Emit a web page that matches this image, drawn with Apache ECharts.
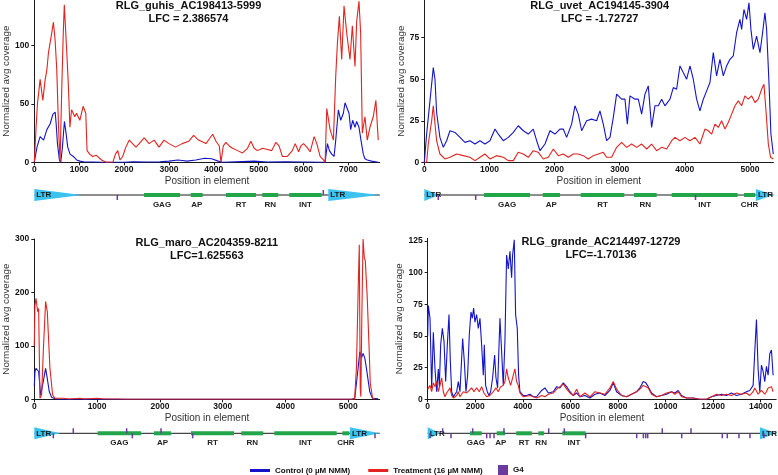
<!DOCTYPE html>
<html><head><meta charset="utf-8">
<script src="https://cdn.jsdelivr.net/npm/echarts@6/dist/echarts.min.js"></script>
<style>html,body{margin:0;padding:0;background:#fff}#c{width:778px;height:475px}</style>
</head><body><div id="c"></div>
<script>
// ---------------- DATA ----------------
const CTRL = 'Control (0 µM NMM)', TREAT = 'Treatment (16 µM NMM)';

// Panel 1: RLG_guhis
const guhisTitle = 'RLG_guhis_AC198413-5999', guhisLFC = 'LFC = 2.386574';
const guhisLength = 7700, guhisYMax = 139;
const guhisXTicks = [0,1000,2000,3000,4000,5000,6000,7000];
const guhisYTicks = [0,50,100];
const guhisControl = [[0,0],[60,13],[130,22],[207,19],[280,28],[354,33],[413,41],[465,43],[487,33],[516,16],[560,2],[590,0],[627,13],[671,35],[708,25],[745,13],[797,7],[870,5],[944,2],[1018,1],[1100,0.5],[1500,0],[2000,0],[2200,0.5],[2500,0.3],[2800,0.5],[3000,1],[3200,2],[3300,1.5],[3400,1],[3600,2],[3800,3.5],[3950,3],[4100,1],[4200,0],[4500,0.5],[4900,1],[5200,0.3],[5600,0.5],[6000,0.3],[6400,0],[6481,0],[6533,16],[6577,10],[6629,7],[6681,5],[6718,19],[6777,45],[6829,36],[6888,42],[6925,51],[6962,52],[7014,42],[7051,28],[7095,36],[7147,30],[7184,35],[7236,30],[7280,19],[7332,7],[7369,3],[7421,2],[7517,1],[7665,0]];
const guhisTreatment = [[0,0],[40,30],[70,50],[130,71],[190,53],[243,71],[280,79],[316,94],[390,111],[426,120],[463,105],[500,80],[540,30],[574,0],[610,60],[645,110],[669,135],[720,97],[757,68],[794,30],[830,45],[904,39],[941,42],[1015,36],[1088,48],[1147,42],[1176,10],[1235,7],[1300,5],[1382,6],[1500,2],[1600,0],[1750,0],[1808,7],[1860,10],[1910,2],[1970,5],[2040,13],[2118,19],[2190,16],[2265,13],[2338,16],[2448,21],[2560,16],[2670,19],[2780,13],[2890,19],[3000,16],[3147,13],[3294,16],[3441,18],[3550,23],[3660,19],[3827,16],[3900,20],[3975,24],[4049,18],[4123,14],[4160,0],[4212,14],[4271,17],[4345,14],[4419,12],[4530,10],[4641,8],[4752,12],[4826,18],[4900,12],[4974,10],[5085,12],[5196,11],[5292,10],[5381,17],[5455,14],[5529,5],[5640,5],[5750,10],[5815,16],[5890,9],[5940,14],[6000,16],[6074,13],[6148,9],[6237,22],[6296,16],[6370,5],[6444,2],[6481,0],[6518,46],[6592,28],[6666,19],[6718,74],[6755,102],[6799,125],[6851,88],[6903,134],[6962,111],[7036,88],[7088,117],[7147,82],[7184,120],[7236,138],[7273,111],[7310,25],[7369,39],[7421,19],[7480,30],[7554,39],[7613,53],[7665,19]];
const guhisLTR = [[0,1056],[6552,7700]];
const guhisGenes = [['GAG',2445,3247],['AP',3486,3753],['RT',4272,4941],['RN',5081,5438],['INT',5683,6405]];
const guhisG4 = [[1850,-1],[6441,1]];

// Panel 2: RLG_uvet
const uvetTitle = 'RLG_uvet_AC194145-3904', uvetLFC = 'LFC = -1.72727';
const uvetLength = 5360, uvetYMax = 97.7;
const uvetXTicks = [0,1000,2000,3000,4000,5000];
const uvetYTicks = [0,25,50,75];
const uvetControl = [[0,0],[36,17],[87,37],[138,57],[164,50],[189,30],[240,15],[292,9],[343,13],[394,19],[471,18],[548,15],[624,12],[701,13],[778,11],[855,13],[931,11],[1008,13],[1085,20],[1136,17],[1213,13],[1290,15],[1366,18],[1443,22],[1520,19],[1597,17],[1673,20],[1725,13],[1776,7],[1853,11],[1929,19],[2006,17],[2083,20],[2134,20],[2185,15],[2262,23],[2313,34],[2364,29],[2416,19],[2492,25],[2569,26],[2646,25],[2697,31],[2748,23],[2799,13],[2851,15],[2902,27],[2953,41],[3030,38],[3081,38],[3117,23],[3158,40],[3234,38],[3286,38],[3337,29],[3388,41],[3439,46],[3490,21],[3541,34],[3593,34],[3644,38],[3695,34],[3772,38],[3823,45],[3874,44],[3925,58],[3976,54],[4028,50],[4079,58],[4130,50],[4181,38],[4232,31],[4284,38],[4335,43],[4386,48],[4437,66],[4488,52],[4539,62],[4591,52],[4642,58],[4693,62],[4744,64],[4795,78],[4846,86],[4872,80],[4908,92],[4949,86],[4985,96],[5015,80],[5051,68],[5102,76],[5154,66],[5194,78],[5230,90],[5256,80],[5292,48],[5322,17],[5358,5]];
const uvetTreatment = [[0,0],[36,0],[61,11],[113,25],[138,34],[189,13],[240,5],[317,2],[394,3],[496,5],[599,4],[701,3],[778,1],[855,3],[931,5],[1008,2],[1110,4],[1213,3],[1290,1],[1366,1],[1443,6],[1520,5],[1597,3],[1673,7],[1750,6],[1827,2],[1904,3],[1981,8],[2057,4],[2134,5],[2211,3],[2288,5],[2364,5],[2441,4],[2518,2],[2595,4],[2672,5],[2748,6],[2799,3],[2876,3],[2953,9],[3030,12],[3106,9],[3183,11],[3260,9],[3337,11],[3414,8],[3490,11],[3567,7],[3644,9],[3721,8],[3798,13],[3849,15],[3925,13],[4002,15],[4079,13],[4156,15],[4232,11],[4309,20],[4360,19],[4412,17],[4463,23],[4514,21],[4565,25],[4616,20],[4667,24],[4719,29],[4770,34],[4821,37],[4872,34],[4923,40],[4974,38],[5025,40],[5077,36],[5128,38],[5179,44],[5215,47],[5246,31],[5282,11],[5317,3],[5358,2]];
const uvetLTR = [[0,230],[5093,5360]];
const uvetGenes = [['GAG',917,1623],['AP',1818,2083],['RT',2401,3071],['RN',3220,3568],['INT',3798,4811],['CHR',4909,5078]];
const uvetG4 = [[215,-1],[789,-1],[4164,-1]];

// Panel 3: RLG_maro
const maroTitle = 'RLG_maro_AC204359-8211', maroLFC = 'LFC=1.625563';
const maroLength = 5500, maroYMax = 300;
const maroXTicks = [0,1000,2000,3000,4000,5000];
const maroYTicks = [0,100,200,300];
const maroControl = [[0,25],[11,52],[27,58],[48,55],[69,52],[101,8],[133,27],[180,58],[207,39],[239,14],[276,4],[329,1],[400,0],[1000,0.5],[1200,0],[5050,0],[5103,2],[5156,58],[5183,89],[5210,77],[5236,86],[5263,77],[5289,58],[5342,14],[5385,2],[5475,1]];
const maroTreatment = [[0,100],[10,175],[27,189],[53,164],[69,170],[90,2],[117,8],[143,89],[180,183],[207,164],[249,58],[292,8],[329,2],[460,2],[550,0.5],[727,2],[800,0.5],[1000,2],[1100,0.5],[1300,0.5],[1500,0],[5100,0],[5130,60],[5160,220],[5175,289],[5190,20],[5200,5],[5215,150],[5235,300],[5255,265],[5270,260],[5300,195],[5330,100],[5350,30],[5385,3],[5420,0]];
const maroLTR = [[0,409],[5027,5500]];
const maroGenes = [['GAG',1009,1699],['AP',1906,2177],['RT',2495,3180],['RN',3296,3646],['INT',3822,4815],['CHR',4905,5016]];
const maroG4 = [[621,1],[1471,1],[2018,1],[303,-1],[1561,-1],[2522,-1],[5425,-1]];

// Panel 4: RLG_grande
const grandeTitle = 'RLG_grande_AC214497-12729', grandeLFC = 'LFC=-1.70136';
const grandeLength = 14650, grandeYMax = 127.2;
const grandeXTicks = [0,2000,4000,6000,8000,10000,12000,14000];
const grandeYTicks = [0,25,50,75,100,125];
const grandeControl = [[0,50],[27,74],[97,64],[167,9],[237,53],[307,24],[377,6],[447,24],[489,10],[545,43],[615,56],[685,46],[755,14],[825,43],[895,67],[951,30],[1007,6],[1077,2],[1217,6],[1287,14],[1357,6],[1469,48],[1539,30],[1609,6],[1679,19],[1749,51],[1819,69],[1875,64],[1931,72],[1987,61],[2057,67],[2127,56],[2197,64],[2267,43],[2337,19],[2379,43],[2435,11],[2505,6],[2575,3],[2645,6],[2729,17],[2813,35],[2869,17],[2939,9],[3037,64],[3107,38],[3177,11],[3247,46],[3317,114],[3387,103],[3457,117],[3527,96],[3569,114],[3639,126],[3695,67],[3765,56],[3821,19],[3877,6],[4017,3],[4157,3],[4297,4],[4437,2],[4577,2],[4790,7],[4930,9],[5070,5],[5280,6],[5420,10],[5560,9],[5700,13],[5840,10],[5980,6],[6120,3],[6260,5],[6400,2],[6610,3],[6820,1],[7030,4],[7240,5],[7450,3],[7660,7],[7800,13],[7940,6],[8150,3],[8360,2],[8570,4],[8780,6],[8920,9],[9060,14],[9170,13],[9270,10],[9410,5],[9620,2],[9830,3],[10040,4],[10250,6],[10390,5],[10530,7],[10670,3],[10880,1],[11160,1],[11440,0],[11720,0],[11930,2],[12140,3],[12350,4],[12560,3],[12770,5],[12980,3],[13190,4],[13400,6],[13540,7],[13680,11],[13750,38],[13820,63],[13890,24],[13960,6],[14030,27],[14100,22],[14170,14],[14240,26],[14310,19],[14380,36],[14450,39],[14520,19]];
const grandeTreatment = [[0,8],[27,9],[97,11],[167,6],[237,13],[307,10],[377,14],[447,6],[517,11],[587,17],[657,6],[727,2],[797,5],[867,7],[937,9],[1007,3],[1077,1],[1217,3],[1287,6],[1357,2],[1497,6],[1637,5],[1749,7],[1847,9],[1945,6],[2057,9],[2169,6],[2267,10],[2365,5],[2477,2],[2617,3],[2757,6],[2869,9],[2967,6],[3065,10],[3177,11],[3247,14],[3317,24],[3387,17],[3485,11],[3569,17],[3667,24],[3737,14],[3807,11],[3877,5],[4017,2],[4300,3],[4580,1],[4790,3],[4930,2],[5070,4],[5280,5],[5420,8],[5560,10],[5700,12],[5840,8],[5980,5],[6120,3],[6260,8],[6400,2],[6610,5],[6820,2],[7030,6],[7240,5],[7450,4],[7660,9],[7800,14],[7940,8],[8150,3],[8360,2],[8570,4],[8780,6],[8920,8],[9060,11],[9170,10],[9270,9],[9410,4],[9620,2],[9830,3],[10040,5],[10250,6],[10390,4],[10530,6],[10670,2],[10880,1],[11160,1],[11440,0],[11720,0],[11930,2],[12140,4],[12350,3],[12560,4],[12770,3],[12980,5],[13190,4],[13400,5],[13540,3],[13680,6],[13750,9],[13820,8],[13890,4],[13960,5],[14030,7],[14100,8],[14170,4],[14240,6],[14310,9],[14380,8],[14450,10],[14520,6]];
const grandeLTR = [[0,517],[13970,14650]];
const grandeGenes = [['GAG',1778,2270],['AP',2900,3250],['RT',3720,4380],['RN',4650,4888],['INT',5658,6640]];
const grandeG4 = [[630,1],[1891,1],[3207,1],[5086,1],[5742,1],[9861,1],[11068,1],[97,-1],[979,-1],[2480,-1],[2620,-1],[2788,-1],[6640,-1],[8786,-1],[9066,-1],[9164,-1],[9248,-1],[10677,-1],[12384,-1],[12594,-1],[13085,-1],[13547,-1],[14135,-1]];

// ---------------- LAYOUT ----------------
const FONT = 'Arial, "Liberation Sans", Helvetica, sans-serif';
const C_BLUE = '#1414C8', C_RED = '#E2231F', C_LTR = '#3CC2EE', C_GENE = '#23A54A', C_G4 = '#6A3A9C';

const panels = [
  {ctrl:guhisControl, treat:guhisTreatment, ltr:guhisLTR, genes:guhisGenes, g4:guhisG4, len:guhisLength, yMax:guhisYMax, xTicks:guhisXTicks, yTicks:guhisYTicks, title:guhisTitle, lfc:guhisLFC},
  {ctrl:uvetControl, treat:uvetTreatment, ltr:uvetLTR, genes:uvetGenes, g4:uvetG4, len:uvetLength, yMax:uvetYMax, xTicks:uvetXTicks, yTicks:uvetYTicks, title:uvetTitle, lfc:uvetLFC},
  {ctrl:maroControl, treat:maroTreatment, ltr:maroLTR, genes:maroGenes, g4:maroG4, len:maroLength, yMax:maroYMax, xTicks:maroXTicks, yTicks:maroYTicks, title:maroTitle, lfc:maroLFC},
  {ctrl:grandeControl, treat:grandeTreatment, ltr:grandeLTR, genes:grandeGenes, g4:grandeG4, len:grandeLength, yMax:grandeYMax, xTicks:grandeXTicks, yTicks:grandeYTicks, title:grandeTitle, lfc:grandeLFC}
];
const layout = [
  {left:34.3, top:0, width:345.5, height:162.3, trackY:195, nameGap:20, titleX:188.5, titleY:6},
  {left:424.3, top:0, width:349.1, height:162.3, trackY:195, nameGap:17.5, titleX:599.7, titleY:6},
  {left:34.3, top:239, width:345.4, height:160.3, trackY:433.3, nameGap:21, titleX:206.8, titleY:243.3},
  {left:427.7, top:238.3, width:348.5, height:161, trackY:433.3, nameGap:21.7, titleX:601, titleY:242.3}
];

const N = panels.length;
const grids = new Array(2 * N), xAxes = new Array(2 * N), yAxes = new Array(2 * N);
const series = [], graphics = [];
const axisLineStyle = {color:'#1a1a1a', width:1};
const tickLabel = {fontFamily:FONT, fontSize:8.5, fontWeight:'bold', color:'#111', formatter:v => String(v)};

panels.forEach((p, i) => {
  const L = layout[i];
  grids[i] = {left:L.left, top:L.top, width:L.width, height:L.height, containLabel:false, outerBoundsMode:'none'};
  xAxes[i] = {type:'value', gridIndex:i, min:0, max:p.len,
    axisLine:{show:true, lineStyle:axisLineStyle}, axisTick:{show:true, length:3, lineStyle:axisLineStyle, customValues:p.xTicks},
    axisLabel:Object.assign({margin:2.5, customValues:p.xTicks}, tickLabel), splitLine:{show:false},
    name:'Position in element', nameLocation:'middle', nameGap:14,
    nameTextStyle:{fontFamily:FONT, fontSize:10, color:'#333'}};
  yAxes[i] = {type:'value', gridIndex:i, min:0, max:p.yMax,
    axisLine:{show:true, lineStyle:axisLineStyle}, axisTick:{show:true, length:3, lineStyle:axisLineStyle, customValues:p.yTicks},
    axisLabel:Object.assign({margin:5, customValues:p.yTicks}, tickLabel), splitLine:{show:false},
    name:'Normalized avg coverage', nameLocation:'middle', nameGap:L.nameGap, nameRotate:90,
    nameTextStyle:{fontFamily:FONT, fontSize:9.8, color:'#333'}};
  series.push({type:'line', name:CTRL, xAxisIndex:i, yAxisIndex:i, data:p.ctrl, symbol:'none', color:C_BLUE,
    itemStyle:{color:C_BLUE}, lineStyle:{color:C_BLUE, width:1.1}, z:2, silent:true});
  series.push({type:'line', name:TREAT, xAxisIndex:i, yAxisIndex:i, data:p.treat, symbol:'none', color:C_RED,
    itemStyle:{color:C_RED}, lineStyle:{color:C_RED, width:1.1}, z:3, silent:true});

  // annotation track below each panel
  const ti = i + N;
  grids[ti] = {left:L.left, top:L.trackY - 10, width:L.width, height:20, containLabel:false, outerBoundsMode:'none'};
  xAxes[ti] = {type:'value', gridIndex:ti, min:0, max:p.len, show:false};
  yAxes[ti] = {type:'value', gridIndex:ti, min:-1, max:1, show:false};
  series.push({type:'line', xAxisIndex:ti, yAxisIndex:ti, data:[[0,0],[p.len,0]], symbol:'none',
    lineStyle:{color:'#1a1a1a', width:1}, silent:true, z:1});
  series.push({type:'custom', xAxisIndex:ti, yAxisIndex:ti, data:p.genes.map(g => [g[1], g[2]]), z:2, silent:true,
    renderItem:(params, api) => {
      const s = api.coord([api.value(0), 0]), e = api.coord([api.value(1), 0]);
      return {type:'group', children:[
        {type:'rect', shape:{x:s[0], y:s[1]-2, width:e[0]-s[0], height:4}, style:{fill:C_GENE}},
        {type:'text', style:{text:p.genes[params.dataIndex][0], x:(s[0]+e[0])/2, y:s[1]+9.5,
          align:'center', verticalAlign:'middle', textAlign:'center', textVerticalAlign:'middle',
          font:'bold 8px ' + FONT, fill:'#222'}}
      ]};
    }});
  series.push({type:'custom', xAxisIndex:ti, yAxisIndex:ti, data:p.ltr, z:3, silent:true,
    renderItem:(params, api) => {
      const s = api.coord([api.value(0), 0]), e = api.coord([api.value(1), 0]);
      return {type:'group', children:[
        {type:'polygon', shape:{points:[[s[0], s[1]-6], [s[0], s[1]+6], [e[0], s[1]]]}, style:{fill:C_LTR}},
        {type:'text', style:{text:'LTR', x:s[0]+2, y:s[1], align:'left', verticalAlign:'middle',
          textAlign:'left', textVerticalAlign:'middle', font:'bold 8px ' + FONT, fill:'#1a1a1a'}}
      ]};
    }});
  series.push({type:'custom', name:'G4', xAxisIndex:ti, yAxisIndex:ti, data:p.g4, z:4, silent:true,
    itemStyle:{color:C_G4},
    renderItem:(params, api) => {
      const c = api.coord([api.value(0), 0]); const d = api.value(1);
      return {type:'rect', shape:{x:c[0]-0.75, y:d > 0 ? c[1]-5 : c[1], width:1.5, height:5}, style:{fill:C_G4}};
    }});

  graphics.push({type:'text', x:L.titleX, y:L.titleY, style:{text:p.title, align:'center', verticalAlign:'middle',
    textAlign:'center', textVerticalAlign:'middle', font:'bold 11px ' + FONT, fill:'#111'}});
  graphics.push({type:'text', x:L.titleX, y:L.titleY + 13, style:{text:p.lfc, align:'center', verticalAlign:'middle',
    textAlign:'center', textVerticalAlign:'middle', font:'bold 11px ' + FONT, fill:'#111'}});
});

const chart = echarts.init(document.getElementById('c'), null, {renderer:'canvas'});
chart.setOption({
  animation:false,
  backgroundColor:'#fff',
  grid:grids, xAxis:xAxes, yAxis:yAxes, series:series, graphic:graphics,
  legend:[
    {data:[CTRL, TREAT], left:245, top:461.5, icon:'rect', itemWidth:20, itemHeight:3, itemGap:18, selectedMode:false,
      textStyle:{fontFamily:FONT, fontSize:8, fontWeight:'bold', color:'#111'}},
    {data:['G4'], left:493, top:460, icon:'rect', itemWidth:10, itemHeight:10, selectedMode:false,
      textStyle:{fontFamily:FONT, fontSize:8, fontWeight:'bold', color:'#111'}}
  ]
});
</script></body></html>
